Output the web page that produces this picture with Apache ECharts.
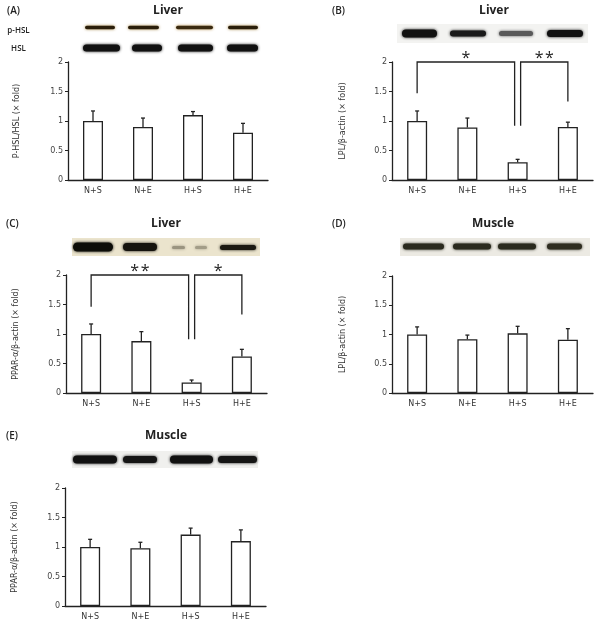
<!DOCTYPE html>
<html>
<head>
<meta charset="utf-8">
<script src="https://cdn.jsdelivr.net/npm/echarts@6/dist/echarts.min.js"></script>
<style>
html,body{margin:0;padding:0;background:#fff;}
#chart{width:601px;height:625px;}
</style>
</head>
<body>
<div id="chart"></div>
<script>
// ---------------- DATA ----------------
const categories = ['N+S', 'N+E', 'H+S', 'H+E'];
const yTicks = [0, 0.5, 1, 1.5, 2];

const meanA = [1.00, 0.90, 1.10, 0.80];
const errA  = [0.17, 0.15, 0.06, 0.16];

const meanB = [1.00, 0.89, 0.30, 0.90];
const errB  = [0.17, 0.16, 0.05, 0.08];

const meanC = [1.00, 0.88, 0.18, 0.62];
const errC  = [0.17, 0.16, 0.04, 0.12];

const meanD = [1.00, 0.92, 1.02, 0.91];
const errD  = [0.13, 0.07, 0.12, 0.19];

const meanE = [1.00, 0.98, 1.21, 1.10];
const errE  = [0.13, 0.10, 0.11, 0.19];

// significance brackets: [fromIndex, toIndex, leftLegBottom, rightLegBottom, label]
const sigB = [[0, 2, 1.47, 0.92, '*'], [2, 3, 0.92, 1.33, '*\u200A*']];
const sigC = [[0, 2, 1.46, 0.91, '*\u200A*'], [2, 3, 0.91, 1.33, '*']];

const yNameA = 'P-HSL/HSL (× fold)';
const yNameB = 'LPL/β-actin (× fold)';
const yNameC = 'PPAR-α/β-actin (× fold)';
const yNameD = 'LPL/β-actin (× fold)';
const yNameE = 'PPAR-α/β-actin (× fold)';

// ---------------- LAYOUT ----------------
const FONT = '"Open Sans", "DejaVu Sans", sans-serif';
const AXFONT = '"DejaVu Sans", sans-serif';
const INK = '#222';
const Y_MAX = 2;

const panels = [
  {label:'(A)', tissue:'Liver',  lx:7,   tx:168, ty:11,  grid:{left:68,  top:62,  width:200, height:118}, mean:meanA, err:errA, yName:yNameA, nameGap:47, sig:null},
  {label:'(B)', tissue:'Liver',  lx:332, tx:494, ty:11,  grid:{left:392, top:62,  width:201, height:118}, mean:meanB, err:errB, yName:yNameB, nameGap:45, sig:sigB},
  {label:'(C)', tissue:'Liver',  lx:6,   tx:166, ty:224, grid:{left:66,  top:275, width:201, height:118}, mean:meanC, err:errC, yName:yNameC, nameGap:46, sig:sigC},
  {label:'(D)', tissue:'Muscle', lx:332, tx:493, ty:224, grid:{left:392, top:276, width:201, height:117}, mean:meanD, err:errD, yName:yNameD, nameGap:45, sig:null},
  {label:'(E)', tissue:'Muscle', lx:6,   tx:166, ty:436, grid:{left:65,  top:488, width:201, height:118}, mean:meanE, err:errE, yName:yNameE, nameGap:46, sig:null}
];

// western-blot decorations (pure images in the original)
function band(x1, x2, yc, h, color, glow) {
  return {
    type: 'rect', silent: true,
    shape: {x: x1, y: yc - h / 2, width: x2 - x1, height: h, r: h / 2},
    style: {fill: color, shadowBlur: 3, shadowColor: glow || color}
  };
}
function box(x1, y1, x2, y2, fill) {
  return {type: 'rect', silent: true, shape: {x: x1, y: y1, width: x2 - x1, height: y2 - y1}, style: {fill: fill}};
}
const blotGraphics = [
  // A
  band(85, 115, 27.6, 3.5, '#2a1e0a', '#9c7b3a'), band(128, 159, 27.6, 3.5, '#2a1e0a', '#9c7b3a'),
  band(176, 213, 27.6, 3.5, '#3a2a10', '#b08a45'), band(228, 258, 27.6, 3.5, '#2a1e0a', '#9c7b3a'),
  band(83, 120, 48, 7, '#111'), band(132, 162, 48, 7, '#111'), band(178, 213, 48, 7, '#111'), band(227, 258, 48, 7, '#111'),
  // B
  box(397, 24, 588, 43, '#f3f3f1'),
  band(402, 437, 33.5, 8, '#111'), band(450, 486, 33.5, 6, '#1a1a1a'), band(499, 533, 33.5, 5, '#5a5a5a'), band(547, 583, 33.5, 7, '#111'),
  // C
  box(72, 238, 260, 256, '#ebe4cd'),
  band(73, 113, 247, 9, '#0d0d08'), band(123, 157, 247, 8, '#15130d'),
  band(172, 185, 247.5, 3, '#9a9480'), band(195, 207, 247.5, 3, '#a39d88'),
  band(220, 256, 247.5, 5, '#1c1a12'),
  // D
  box(400, 238, 590, 256, '#eceae3'),
  band(403, 444, 246.5, 6, '#2a2a1e'), band(453, 491, 246.5, 6, '#2a2a1e'), band(498, 536, 246.5, 6, '#2a2a1e'), band(547, 582, 246.5, 6, '#2f2d20'),
  // E
  box(72, 451, 258, 468, '#f0f0ee'),
  band(73, 117, 459.5, 8, '#111'), band(123, 157, 459.5, 7, '#151515'), band(170, 213, 459.5, 8, '#111'), band(218, 257, 459.5, 7, '#151515')
];

// ---------------- BUILD ----------------
const grids = [], xAxes = [], yAxes = [], series = [];
const texts = [
  {type:'text', silent:true, style:{text:'p-HSL', x:18.5, y:30.5, align:'center', verticalAlign:'middle', font:'600 8px ' + FONT, fill:INK}},
  {type:'text', silent:true, style:{text:'HSL', x:18.5, y:48.3, align:'center', verticalAlign:'middle', font:'600 8px ' + FONT, fill:INK}}
];

function errRender(mean, err) {
  return function (params, api) {
    const i = params.dataIndex;
    const p0 = api.coord([i, mean[i]]);
    const p1 = api.coord([i, mean[i] + err[i]]);
    return {type:'group', children:[
      {type:'line', shape:{x1:p0[0], y1:p0[1], x2:p1[0], y2:p1[1]}, style:{stroke:INK, lineWidth:1.3}},
      {type:'line', shape:{x1:p1[0] - 2, y1:p1[1], x2:p1[0] + 2, y2:p1[1]}, style:{stroke:INK, lineWidth:1.3}}
    ]};
  };
}
function sigRender(sig) {
  return function (params, api) {
    const i = params.dataIndex;
    const s = sig[i];
    let xa = api.coord([s[0], Y_MAX])[0];
    let xb = api.coord([s[1], Y_MAX])[0];
    if (sig.some((o, j) => j !== i && o[1] === s[0])) xa += 3;
    if (sig.some((o, j) => j !== i && o[0] === s[1])) xb -= 3;
    const yt = api.coord([s[0], Y_MAX])[1];
    const ya = api.coord([s[0], s[2]])[1];
    const yb = api.coord([s[1], s[3]])[1];
    return {type:'group', children:[
      {type:'polyline', shape:{points:[[xa, ya], [xa, yt], [xb, yt], [xb, yb]]}, style:{stroke:INK, lineWidth:1.3, fill:null}},
      {type:'text', style:{text:s[4], x:(xa + xb) / 2, y:yt + 4, align:'center', verticalAlign:'bottom', font:'16px ' + FONT, fill:INK}}
    ]};
  };
}

panels.forEach((p, k) => {
  grids.push(Object.assign({containLabel:false}, p.grid));
  xAxes.push({
    type:'category', gridIndex:k, data:categories, boundaryGap:true,
    axisLine:{show:true, lineStyle:{color:INK, width:1.3}},
    axisTick:{show:false},
    axisLabel:{fontSize:8, color:'#333', margin:7, fontFamily:AXFONT}
  });
  yAxes.push({
    type:'value', gridIndex:k, min:yTicks[0], max:yTicks[yTicks.length - 1], interval:0.5,
    name:p.yName, nameLocation:'middle', nameGap:p.nameGap,
    nameTextStyle:{fontSize:8, color:'#333', fontFamily:AXFONT},
    axisLine:{show:true, lineStyle:{color:INK, width:1.3}},
    axisTick:{show:true, length:3, lineStyle:{color:INK, width:1}},
    axisLabel:{fontSize:8, color:'#444', margin:5, fontFamily:AXFONT},
    splitLine:{show:false}
  });
  series.push({
    type:'bar', xAxisIndex:k, yAxisIndex:k, data:p.mean, barWidth:20,
    itemStyle:{color:'#fff', borderColor:INK, borderWidth:1.3},
    silent:true, animation:false
  });
  series.push({
    type:'custom', xAxisIndex:k, yAxisIndex:k,
    data:p.mean.map((v, i) => [i, v + p.err[i]]),
    renderItem:errRender(p.mean, p.err), silent:true, animation:false, z:3
  });
  if (p.sig) {
    series.push({
      type:'custom', xAxisIndex:k, yAxisIndex:k,
      data:p.sig.map(s => [s[0], Y_MAX]),
      renderItem:sigRender(p.sig), clip:false, silent:true, animation:false, z:4
    });
  }
  texts.push({type:'text', silent:true, style:{text:p.label, x:p.lx, y:p.ty, align:'left', verticalAlign:'middle', font:'600 10px ' + FONT, fill:INK}});
  texts.push({type:'text', silent:true, style:{text:p.tissue, x:p.tx, y:p.ty, align:'center', verticalAlign:'middle', font:'bold 12px ' + FONT, fill:INK}});
});

const chart = echarts.init(document.getElementById('chart'), null, {renderer:'canvas'});
chart.setOption({
  backgroundColor:'#fff',
  animation:false,
  grid:grids, xAxis:xAxes, yAxis:yAxes, series:series,
  graphic:[].concat(blotGraphics, texts)
});
</script>
</body>
</html>
